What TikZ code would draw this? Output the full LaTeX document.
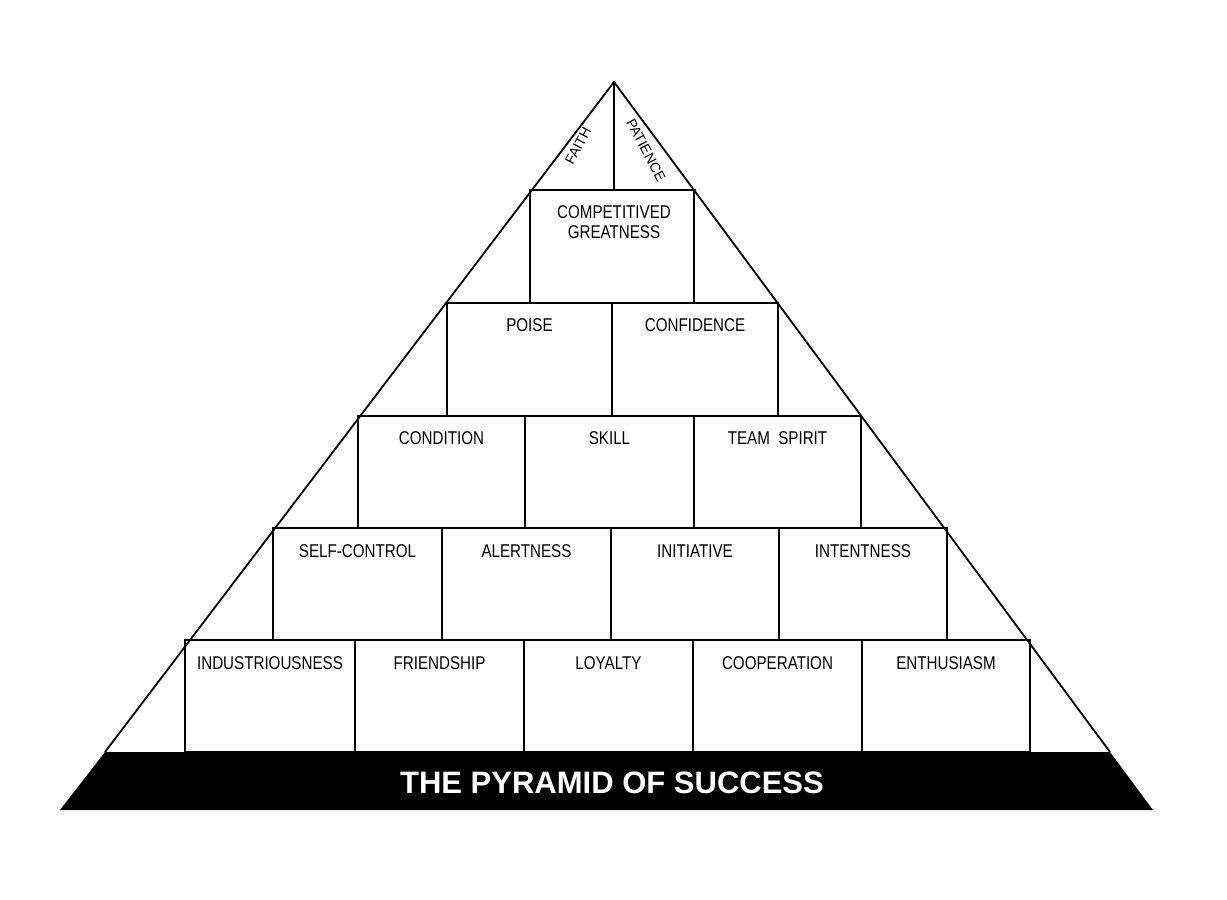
\documentclass[tikz,border=0pt]{standalone}
\usepackage{fontspec}
\setmainfont{Liberation Sans}
\begin{document}
\begin{tikzpicture}[x=1pt,y=-1pt,
  lbl/.style={font=\fontsize{18.5}{20}\selectfont,xscale=0.82,anchor=base,inner sep=0pt},
  rlbl/.style={font=\fontsize{14}{16}\selectfont,inner sep=0pt},
  box/.style={draw,line width=1.6pt}]
\useasboundingbox (0,0) rectangle (1227,900);
\fill[white] (0,0) rectangle (1227,900);
% band
\fill[black] (105,752) -- (1110,752) -- (1153,810) -- (60,810) -- cycle;
\node[font=\bfseries\fontsize{31}{34}\selectfont,text=white] (title) at (612,783) {THE PYRAMID OF SUCCESS};
% triangle
\coordinate (apex) at (614,82);
\coordinate (bl) at (105,752);
\coordinate (br) at (1110,752);
\draw[line width=1.8pt] (bl) -- (apex) -- (br);
% top row
\draw[line width=1.6pt] (apex) -- (614,190);
\node[rlbl,rotate=62] (faith) at (578,146) {FAITH};
\node[rlbl,rotate=-62] (patience) at (646,150) {PATIENCE};
% rows
\draw[box] (532,190) -- (696,190);
\draw[box] (530,190) rectangle (694,303);
\node[lbl,align=center,anchor=north] (cg) at (614,205) {COMPETITIVED\\GREATNESS};
\foreach \a/\b/\t [count=\i] in {447/612/POISE,612/778/CONFIDENCE}
  {\draw[box] (\a,303) rectangle (\b,416); \node[lbl] (r2\i) at ({(\a+\b)/2},331) {\t};}
\foreach \a/\b/\t [count=\i] in {358/525/CONDITION,525/694/SKILL,694/861/TEAM\ \ SPIRIT}
  {\draw[box] (\a,416) rectangle (\b,528); \node[lbl] (r3\i) at ({(\a+\b)/2},444) {\t};}
\foreach \a/\b/\t [count=\i] in {273/442/SELF-CONTROL,442/611/ALERTNESS,611/779/INITIATIVE,779/947/INTENTNESS}
  {\draw[box] (\a,528) rectangle (\b,640); \node[lbl] (r4\i) at ({(\a+\b)/2},557) {\t};}
\foreach \a/\b/\t [count=\i] in {185/355/INDUSTRIOUSNESS,355/524/FRIENDSHIP,524/693/LOYALTY,693/862/COOPERATION,862/1030/ENTHUSIASM}
  {\draw[box] (\a,640) rectangle (\b,752); \node[lbl] (r5\i) at ({(\a+\b)/2},669) {\t};}
\end{tikzpicture}
\end{document}
